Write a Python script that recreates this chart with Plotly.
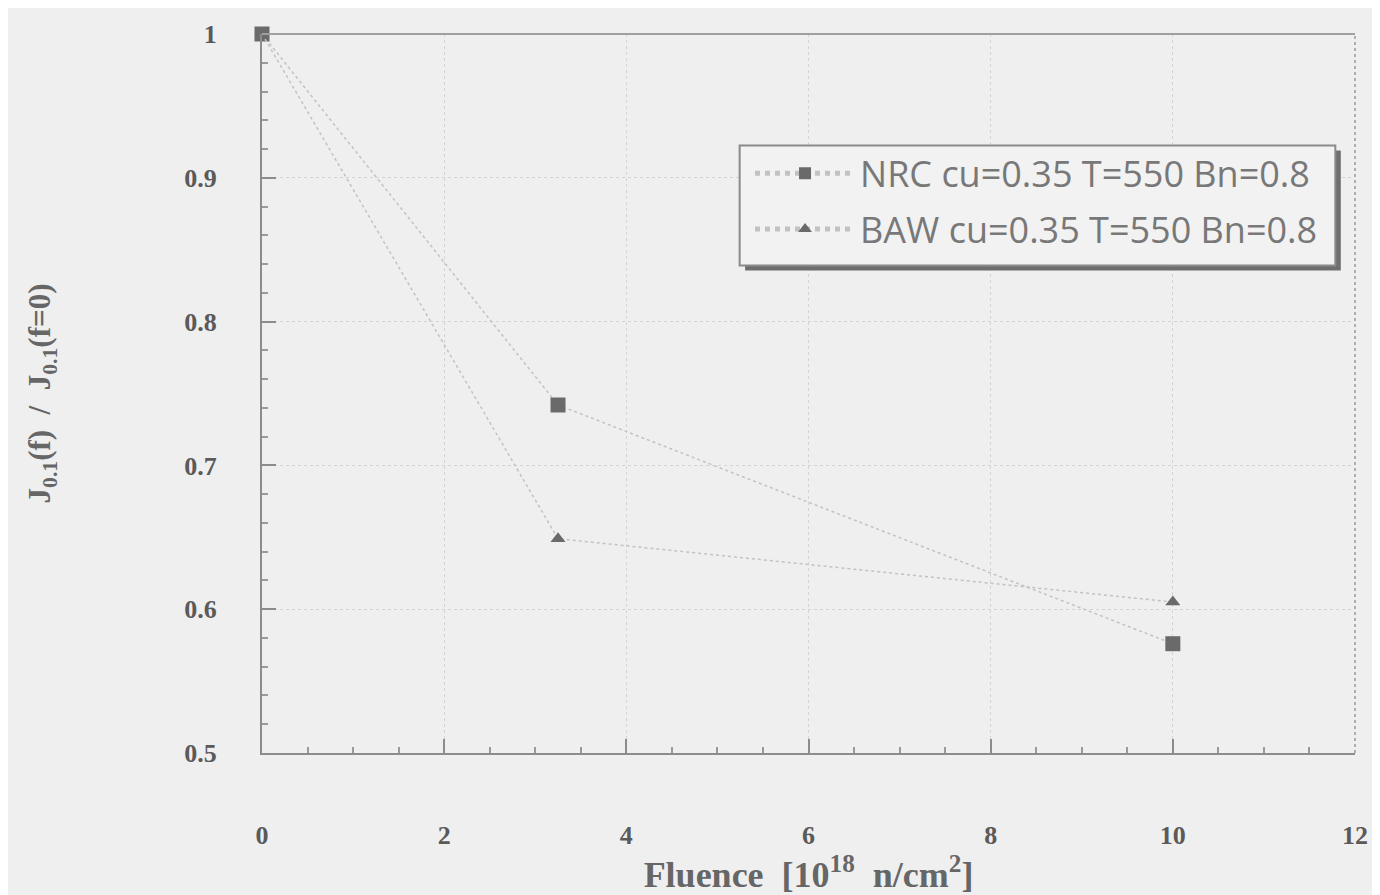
import plotly.graph_objects as go

fluence_nrc = [0, 3.25, 10]
ratio_nrc = [1.0, 0.742, 0.576]
fluence_baw = [0, 3.25, 10]
ratio_baw = [1.0, 0.649, 0.605]

x_ticks = [0, 2, 4, 6, 8, 10, 12]
y_ticks = [0.5, 0.6, 0.7, 0.8, 0.9, 1.0]
y_tick_labels = ["0.5", "0.6", "0.7", "0.8", "0.9", "1"]

fig = go.Figure()
fig.add_trace(go.Scatter(
    x=fluence_nrc, y=ratio_nrc, mode="lines+markers",
    name="NRC cu=0.35 T=550 Bn=0.8", legendgroup="a", cliponaxis=False,
    line=dict(color="#c2c2c2", width=1.5, dash="dot"),
    marker=dict(symbol="square", size=15, color="#6a6a6a"),
))
fig.add_trace(go.Scatter(
    x=fluence_baw, y=ratio_baw, mode="lines+markers",
    name="BAW cu=0.35 T=550 Bn=0.8", legendgroup="b", cliponaxis=False,
    line=dict(color="#c2c2c2", width=1.5, dash="dot"),
    marker=dict(symbol="triangle-up", size=13, color="#6a6a6a"),
))

# legend frame with shadow (paper coordinates)
fig.add_shape(type="rect", xref="paper", yref="paper",
              x0=0.442, x1=0.987, y0=0.671, y1=0.838,
              fillcolor="#6e6e6e", line=dict(width=0))
fig.add_shape(type="rect", xref="paper", yref="paper",
              x0=0.437, x1=0.982, y0=0.678, y1=0.845,
              fillcolor="#f2f2f2", line=dict(color="#8a8a8a", width=2))

tickfont = dict(family="Liberation Serif", size=26, color="#5a5a5a", weight="bold")
fig.update_layout(
    width=1380, height=895,
    paper_bgcolor="#efefef", plot_bgcolor="#efefef",
    margin=dict(l=254, r=33, t=19, b=150),
    showlegend=True,
    legend=dict(x=0.4465, y=0.848, xanchor="left", yanchor="top",
                bgcolor="rgba(0,0,0,0)", borderwidth=0,
                font=dict(family="Open Sans", size=36, color="#787878"),
                tracegroupgap=6, itemwidth=100, itemsizing="constant"),
    xaxis=dict(range=[0, 12], tickvals=x_ticks, ticktext=[str(v) for v in x_ticks],
               showgrid=True, gridcolor="#d4d4d4", gridwidth=1, griddash="dot",
               zeroline=False, showline=True, linecolor="#8c8c8c", linewidth=2,
               ticks="inside", ticklen=14, tickcolor="#8c8c8c", tickwidth=2,
               minor=dict(dtick=0.5, ticks="inside", ticklen=6, tickcolor="#999999", showgrid=False),
               tickfont=tickfont, ticklabelstandoff=58,
               title=dict(text="Fluence  [10<sup>18</sup>  n/cm<sup>2</sup>]",
                          font=dict(family="Liberation Serif", size=36, color="#666666", weight="bold"),
                          standoff=2)),
    yaxis=dict(range=[0.5, 1.0], tickvals=y_ticks, ticktext=y_tick_labels,
               showgrid=True, gridcolor="#d4d4d4", gridwidth=1, griddash="dot",
               zeroline=False, showline=True, linecolor="#8c8c8c", linewidth=2,
               ticks="inside", ticklen=14, tickcolor="#8c8c8c", tickwidth=2,
               minor=dict(dtick=0.02, ticks="inside", ticklen=6, tickcolor="#9a9a9a", showgrid=False),
               tickfont=tickfont, ticklabelstandoff=38,
               title=dict(text="J<sub>0.1</sub>(f)  /  J<sub>0.1</sub>(f=0)",
                          font=dict(family="Liberation Serif", size=31, color="#666666", weight="bold"),
                          standoff=124)),
)
fig.add_shape(type="line", xref="paper", yref="paper", x0=0, x1=1, y0=1, y1=1,
              line=dict(color="#a0a0a0", width=2))
fig.add_shape(type="line", xref="paper", yref="paper", x0=1, x1=1, y0=0, y1=1,
              line=dict(color="#9a9a9a", width=1.5, dash="dot"))

fig.write_html("out.html")
